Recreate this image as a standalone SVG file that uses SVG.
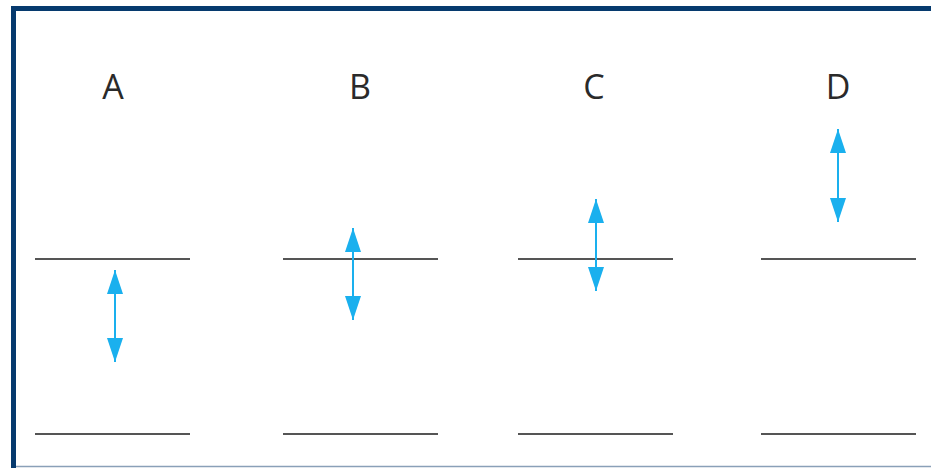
<svg xmlns="http://www.w3.org/2000/svg" width="931" height="468" viewBox="0 0 931 468">
<style>
.lbl{font-family:"Open Sans","Liberation Sans",sans-serif;font-size:34px;fill:#2a2a2a;text-anchor:middle}
.lvl{stroke:#555;stroke-width:2}
.arr{stroke:#1ab0ee;stroke-width:2}
.head{fill:#1ab0ee}
</style>
<defs>
<marker id="ah" viewBox="0 0 24 16" refX="24" refY="8" markerWidth="24" markerHeight="16" markerUnits="userSpaceOnUse" orient="auto-start-reverse">
<path d="M24 8 L0 0 L0 16 Z" class="head"/>
</marker>
</defs>
<rect x="0" y="0" width="931" height="468" fill="#fff"/>
<path d="M13.5 468 V8.5 H931" fill="none" stroke="#063a6e" stroke-width="5"/>
<line x1="16" y1="466.5" x2="931" y2="466.5" stroke="#8aa0b8" stroke-width="1.5"/>
<g id="A">
<text class="lbl" x="113" y="99">A</text>
<line class="lvl" x1="35" y1="259" x2="190" y2="259"/>
<line class="lvl" x1="35" y1="434" x2="190" y2="434"/>
</g>
<g id="B">
<text class="lbl" x="360" y="99">B</text>
<line class="lvl" x1="283" y1="259" x2="438" y2="259"/>
<line class="lvl" x1="283" y1="434" x2="438" y2="434"/>
</g>
<g id="C">
<text class="lbl" x="594" y="99">C</text>
<line class="lvl" x1="518" y1="259" x2="673" y2="259"/>
<line class="lvl" x1="518" y1="434" x2="673" y2="434"/>
</g>
<g id="D">
<text class="lbl" x="838" y="99">D</text>
<line class="lvl" x1="761" y1="259" x2="916" y2="259"/>
<line class="lvl" x1="761" y1="434" x2="916" y2="434"/>
</g>
<g id="connectors">
<line class="arr" x1="115" y1="270" x2="115" y2="362" marker-start="url(#ah)" marker-end="url(#ah)"/>
<line class="arr" x1="353" y1="228" x2="353" y2="320" marker-start="url(#ah)" marker-end="url(#ah)"/>
<line class="arr" x1="596" y1="199" x2="596" y2="291" marker-start="url(#ah)" marker-end="url(#ah)"/>
<line class="arr" x1="838" y1="129" x2="838" y2="222" marker-start="url(#ah)" marker-end="url(#ah)"/>
</g>
</svg>
